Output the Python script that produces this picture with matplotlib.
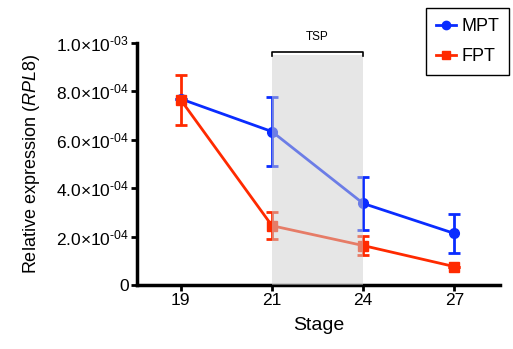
import matplotlib.pyplot as plt
from matplotlib.lines import Line2D
from matplotlib.patches import Rectangle

plt.rcParams['font.family'] = ['Liberation Sans', 'DejaVu Sans']
plt.rcParams['mathtext.fontset'] = 'custom'
plt.rcParams['mathtext.rm'] = 'Liberation Sans'
plt.rcParams['mathtext.it'] = 'Liberation Sans:italic'

stages = ['19', '21', '24', '27']
mpt = [7.69e-4, 6.34e-4, 3.37e-4, 2.13e-4]
mpt_err = [0.0, 1.42e-4, 1.10e-4, 0.79e-4]
fpt = [7.65e-4, 2.45e-4, 1.63e-4, 0.76e-4]
fpt_err = [1.02e-4, 0.55e-4, 0.39e-4, 0.0]
yticks = [0, 2e-4, 4e-4, 6e-4, 8e-4, 1e-3]
ytick_labels = ['0', '2.0×10$^{\u201004}$', '4.0×10$^{\u201004}$', '6.0×10$^{\u201004}$',
                '8.0×10$^{\u201004}$', '1.0×10$^{\u201003}$']

blue = '#0a2cff'
red = '#ff2a00'

fig = plt.figure(figsize=(5.13, 3.49), dpi=100)
ax = fig.add_axes([137 / 513, 64 / 349, 363 / 513, 242 / 349])

x = list(range(len(stages)))
ax.errorbar(x, mpt, yerr=mpt_err, color=blue, marker='o', markersize=7,
            lw=2, capsize=4, capthick=2, elinewidth=2, zorder=3)
ax.errorbar(x, fpt, yerr=fpt_err, color=red, marker='s', markersize=7,
            lw=2, capsize=4, capthick=2, elinewidth=2, zorder=3)

# TSP window (semi-transparent over the lines)
ax.add_patch(Rectangle((1, 0), 1, 0.95e-3, facecolor='#cfcfcf', alpha=0.5,
                       edgecolor='none', zorder=4))
ax.plot([1, 1, 2, 2], [0.945e-3, 0.963e-3, 0.963e-3, 0.945e-3], color='black',
        lw=1.2, clip_on=False, zorder=5)
ax.text(1.5, 1.0e-3, 'TSP', ha='center', va='bottom', fontsize=8.5,
        clip_on=False)

ax.set_xlim(-0.48, 3.5)
ax.set_ylim(0, 1e-3)
ax.set_xticks(x)
ax.set_xticklabels(stages, fontsize=12.5)
ax.set_yticks(yticks)
ax.set_yticklabels(ytick_labels, fontsize=12.5)
ax.set_xlabel('Stage', fontsize=14, labelpad=6)
ax.set_ylabel('Relative expression ($\\mathit{RPL8}$)', fontsize=13, labelpad=10)

for side in ['top', 'right']:
    ax.spines[side].set_visible(False)
for side in ['left', 'bottom']:
    ax.spines[side].set_linewidth(2.5)
ax.tick_params(width=2, length=4, direction='out', pad=2)

handles = [Line2D([], [], color=blue, marker='o', markersize=6, lw=2),
           Line2D([], [], color=red, marker='s', markersize=6, lw=2)]
fig.legend(handles, ['MPT', 'FPT'], loc='upper left',
           bbox_to_anchor=(426 / 513, 1 - 8 / 349),
           fontsize=13, frameon=True, fancybox=False, edgecolor='black',
           framealpha=1, handlelength=1.1, handletextpad=0.3,
           labelspacing=0.75, borderpad=0.55, borderaxespad=0)

fig.savefig('out.png', dpi=100)
